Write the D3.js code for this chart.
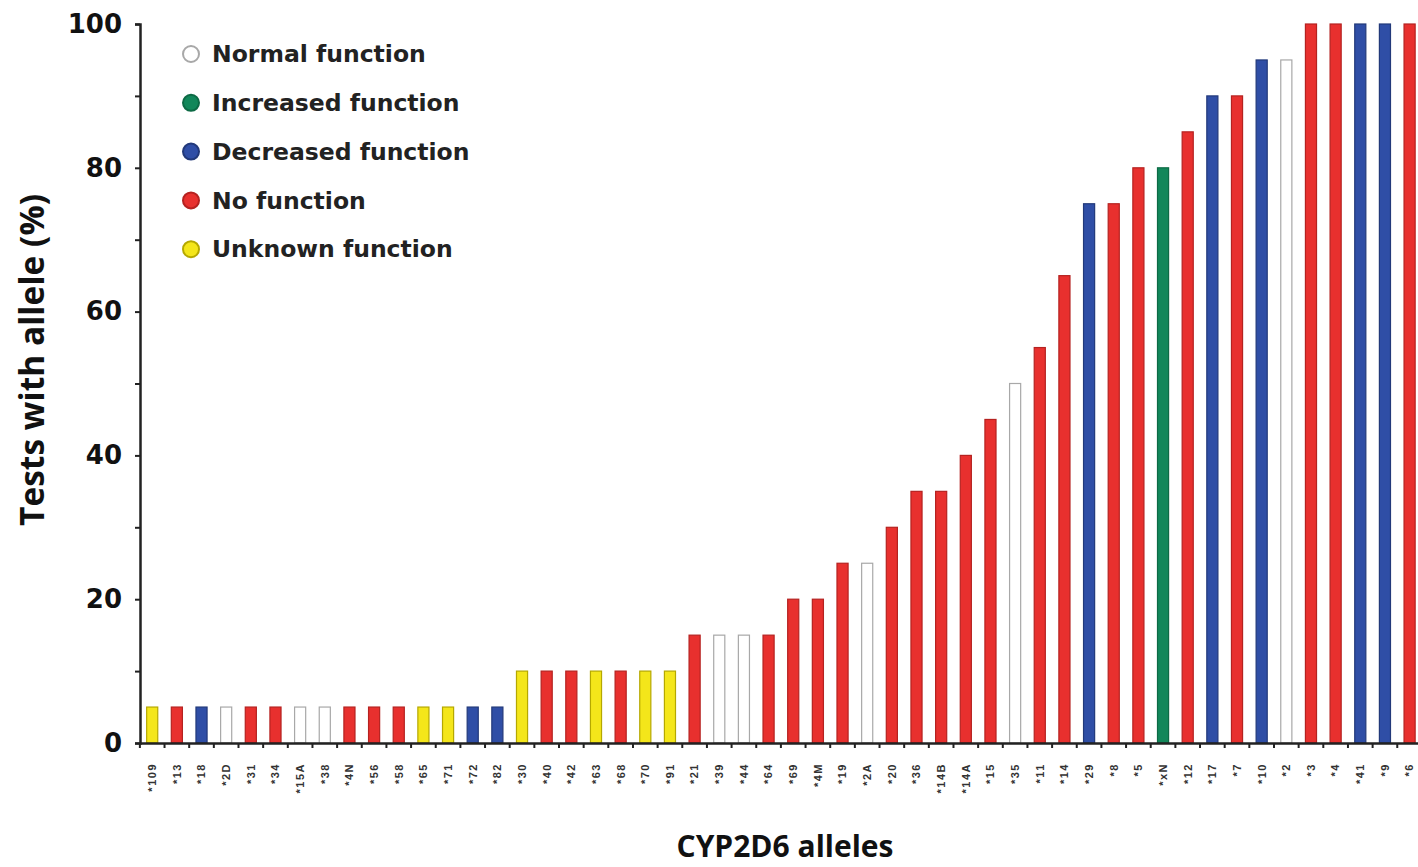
<!DOCTYPE html>
<html>
<head>
<meta charset="utf-8">
<script src="https://cdn.jsdelivr.net/npm/d3@7"></script>
<style>
  body { margin: 0; background: #fff; }
</style>
</head>
<body>
<div id="chart"></div>
<script>
let width = 1418;
let height = 867;
let margin = ({top: 24, right: -4, bottom: 124, left: 140});

// allele names, left to right
let alleles = ["*109", "*13", "*18", "*2D", "*31", "*34", "*15A", "*38", "*4N", "*56", "*58", "*65", "*71", "*72", "*82",
    "*30", "*40", "*42", "*63", "*68", "*70", "*91",
    "*21", "*39", "*44", "*64", "*69", "*4M", "*19", "*2A", "*20", "*36", "*14B", "*14A", "*15", "*35", "*11", "*14",
    "*29", "*8", "*5", "*xN", "*12", "*17", "*7", "*10", "*2", "*3", "*4", "*41", "*9", "*6"];

// percentage of tests with allele
let percents = [5, 5, 5, 5, 5, 5, 5, 5, 5, 5, 5, 5, 5, 5, 5,
    10, 10, 10, 10, 10, 10, 10,
    15, 15, 15, 15, 20, 20, 25, 25, 30, 35, 35, 40, 45, 50, 55, 65,
    75, 75, 80, 80, 85, 90, 90, 95, 95, 100, 100, 100, 100, 100];

// function class for each allele
let functions = ["unknown", "no", "decreased", "normal", "no", "no", "normal", "normal", "no", "no", "no", "unknown", "unknown", "decreased", "decreased",
    "unknown", "no", "no", "unknown", "no", "unknown", "unknown",
    "no", "normal", "normal", "no", "no", "no", "no", "normal", "no", "no", "no", "no", "no", "normal", "no", "no",
    "decreased", "no", "no", "increased", "no", "decreased", "no", "decreased", "normal", "no", "no", "decreased", "decreased", "no"];

let legendKeys = ["normal", "increased", "decreased", "no", "unknown"];
let legendLabels = ["Normal function", "Increased function", "Decreased function", "No function", "Unknown function"];
let yTicks = [0, 20, 40, 60, 80, 100];

let fills = d3.scaleOrdinal()
    .domain(legendKeys)
    .range(["#ffffff", "#12875a", "#2f4ea6", "#e8302e", "#f4e61a"]);
let strokes = d3.scaleOrdinal()
    .domain(legendKeys)
    .range(["#a8a8a8", "#0d6a45", "#22397a", "#b52220", "#b5a800"]);

let data = alleles.map((a, i) => ({allele: a, value: percents[i], func: functions[i]}));

let svg = d3.select("#chart")
    .append("svg")
    .attr("width", width)
    .attr("height", height)
    .style("font-family", "'Open Sans', sans-serif");

let xScale = d3.scaleBand()
    .domain(alleles)
    .range([margin.left, margin.left + alleles.length * 24.65])
    .paddingInner(0.55)
    .paddingOuter(0.27);

let yScale = d3.scaleLinear()
    .domain([0, 100])
    .range([height - margin.bottom, margin.top]);

// bars
svg.selectAll(".bar")
    .data(data)
    .enter()
    .append("rect")
    .attr("class", "bar")
    .attr("x", d => xScale(d.allele))
    .attr("width", xScale.bandwidth())
    .attr("y", d => yScale(d.value))
    .attr("height", d => yScale(0) - yScale(d.value))
    .attr("fill", d => fills(d.func))
    .attr("stroke", d => strokes(d.func))
    .attr("stroke-width", 1.2);

// y axis with minor ticks every 10
let yAxis = d3.axisLeft(yScale)
    .tickValues(d3.range(0, 101, 10))
    .tickSize(5)
    .tickFormat(d => yTicks.includes(d) ? d : "");

let gy = svg.append("g")
    .attr("transform", "translate(" + margin.left + ",0)")
    .call(yAxis);
gy.select(".domain").attr("stroke", "#222").attr("stroke-width", 2.5);
gy.selectAll(".tick line").attr("stroke", "#222").attr("stroke-width", 2);
gy.selectAll(".tick text")
    .attr("x", -18)
    .attr("fill", "#111")
    .style("font-family", "'DejaVu Sans', sans-serif")
    .style("font-size", "26px")
    .style("font-weight", "bold");

// x axis
let xAxis = d3.axisBottom(xScale).tickSize(0).tickSizeOuter(0);
let gx = svg.append("g")
    .attr("transform", "translate(0," + yScale(0) + ")")
    .call(xAxis);
gx.select(".domain").attr("stroke", "#222").attr("stroke-width", 2.5);
gx.selectAll(".tick text")
    .attr("transform", "rotate(-90)")
    .attr("x", -20)
    .attr("y", 0)
    .attr("dy", "0.35em")
    .attr("text-anchor", "end")
    .attr("fill", "#333")
    .style("font-size", "11px")
    .style("letter-spacing", "1.5px")
    .style("font-weight", "bold");

// little ticks between bars
svg.selectAll(".xtick")
    .data(alleles)
    .enter()
    .append("line")
    .attr("class", "xtick")
    .attr("x1", d => xScale(d) - xScale.step() * xScale.paddingInner() / 2)
    .attr("x2", d => xScale(d) - xScale.step() * xScale.paddingInner() / 2)
    .attr("y1", yScale(0))
    .attr("y2", yScale(0) + 5)
    .attr("stroke", "#222")
    .attr("stroke-width", 2);

// axis titles
svg.append("text")
    .attr("transform", "translate(44,360) rotate(-90)")
    .attr("text-anchor", "middle")
    .attr("fill", "#111")
    .style("font-size", "33.5px")
    .style("font-weight", "bold")
    .text("Tests with allele (%)");

svg.append("text")
    .attr("x", 785)
    .attr("y", 857)
    .attr("text-anchor", "middle")
    .attr("fill", "#111")
    .style("font-size", "30px")
    .style("font-weight", "bold")
    .text("CYP2D6 alleles");

// legend
let legend = svg.selectAll(".legend")
    .data(legendKeys)
    .enter()
    .append("g")
    .attr("class", "legend")
    .attr("transform", (d, i) => "translate(191," + (54 + i * 48.8) + ")");

legend.append("circle")
    .attr("r", 8)
    .attr("fill", d => fills(d))
    .attr("stroke", d => strokes(d))
    .attr("stroke-width", 2);

legend.append("text")
    .attr("x", 21)
    .attr("dy", "0.35em")
    .attr("fill", "#222")
    .style("font-family", "'DejaVu Sans', sans-serif")
    .style("font-size", "23.5px")
    .style("font-weight", "bold")
    .text((d, i) => legendLabels[i]);
</script>
</body>
</html>
